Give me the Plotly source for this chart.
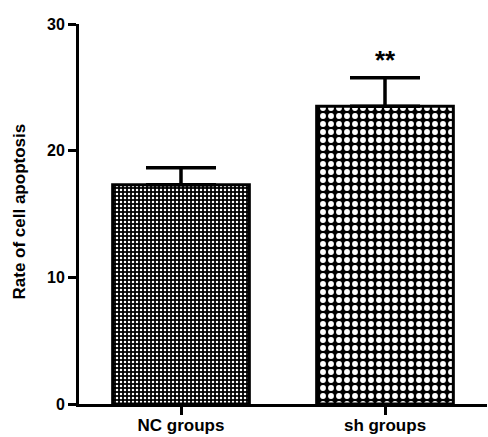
import plotly.graph_objects as go

categories = ["NC groups", "sh groups"]
means = [17.3, 23.5]
errors_up = [1.35, 2.25]
significance = ["", "**"]
y_ticks = [0, 10, 20, 30]

FONT = "Liberation Sans, Arial, Helvetica, sans-serif"

fig = go.Figure()

patterns = [
    dict(shape=".", fgcolor="white", bgcolor="black", size=4, solidity=0.3, fillmode="replace"),
    dict(shape=".", fgcolor="white", bgcolor="black", size=8, solidity=0.42, fillmode="replace"),
]

for i, cat in enumerate(categories):
    fig.add_trace(go.Bar(
        x=[cat], y=[means[i]],
        width=0.67,
        marker=dict(color="black", line=dict(color="black", width=3), pattern=patterns[i]),
        error_y=dict(type="data", symmetric=False, array=[errors_up[i]], arrayminus=[0],
                     color="black", thickness=3.5, width=35),
        showlegend=False,
    ))
    if significance[i]:
        fig.add_annotation(x=cat, y=means[i] + errors_up[i], text="<b>" + significance[i] + "</b>",
                           showarrow=False, yanchor="bottom", yshift=1,
                           font=dict(family=FONT, size=26, color="black"))

fig.add_annotation(xref="paper", yref="paper", x=(19 - 79) / 408, y=(404 - 211.5) / 380,
                   text="<b>Rate of cell apoptosis</b>", textangle=-90, showarrow=False,
                   xanchor="center", yanchor="middle",
                   font=dict(family=FONT, size=17, color="black"))

fig.update_layout(
    width=488, height=437,
    margin=dict(l=79, r=1, t=24, b=33),
    paper_bgcolor="white", plot_bgcolor="white",
    font=dict(family=FONT, size=16, color="black"),
)
fig.update_xaxes(
    type="category", range=[-0.5, 1.5], automargin=False,
    showline=True, linecolor="black", linewidth=3,
    ticks="outside", ticklen=8, tickwidth=3, tickcolor="black",
    ticklabelstandoff=-4,
    tickfont=dict(family=FONT, size=17, color="black", weight="bold"),
    showgrid=False, zeroline=False, fixedrange=True,
)
fig.update_yaxes(
    range=[0, 30], tickvals=y_ticks, automargin=False,
    showline=True, linecolor="black", linewidth=3,
    ticks="outside", ticklen=8, tickwidth=3, tickcolor="black",
    tickfont=dict(family=FONT, size=16, color="black", weight="bold"),
    showgrid=False, zeroline=False, fixedrange=True,
)

fig.write_html("out.html", config={"displayModeBar": False},
               post_script="document.body.style.margin='0';document.body.style.padding='0';")
